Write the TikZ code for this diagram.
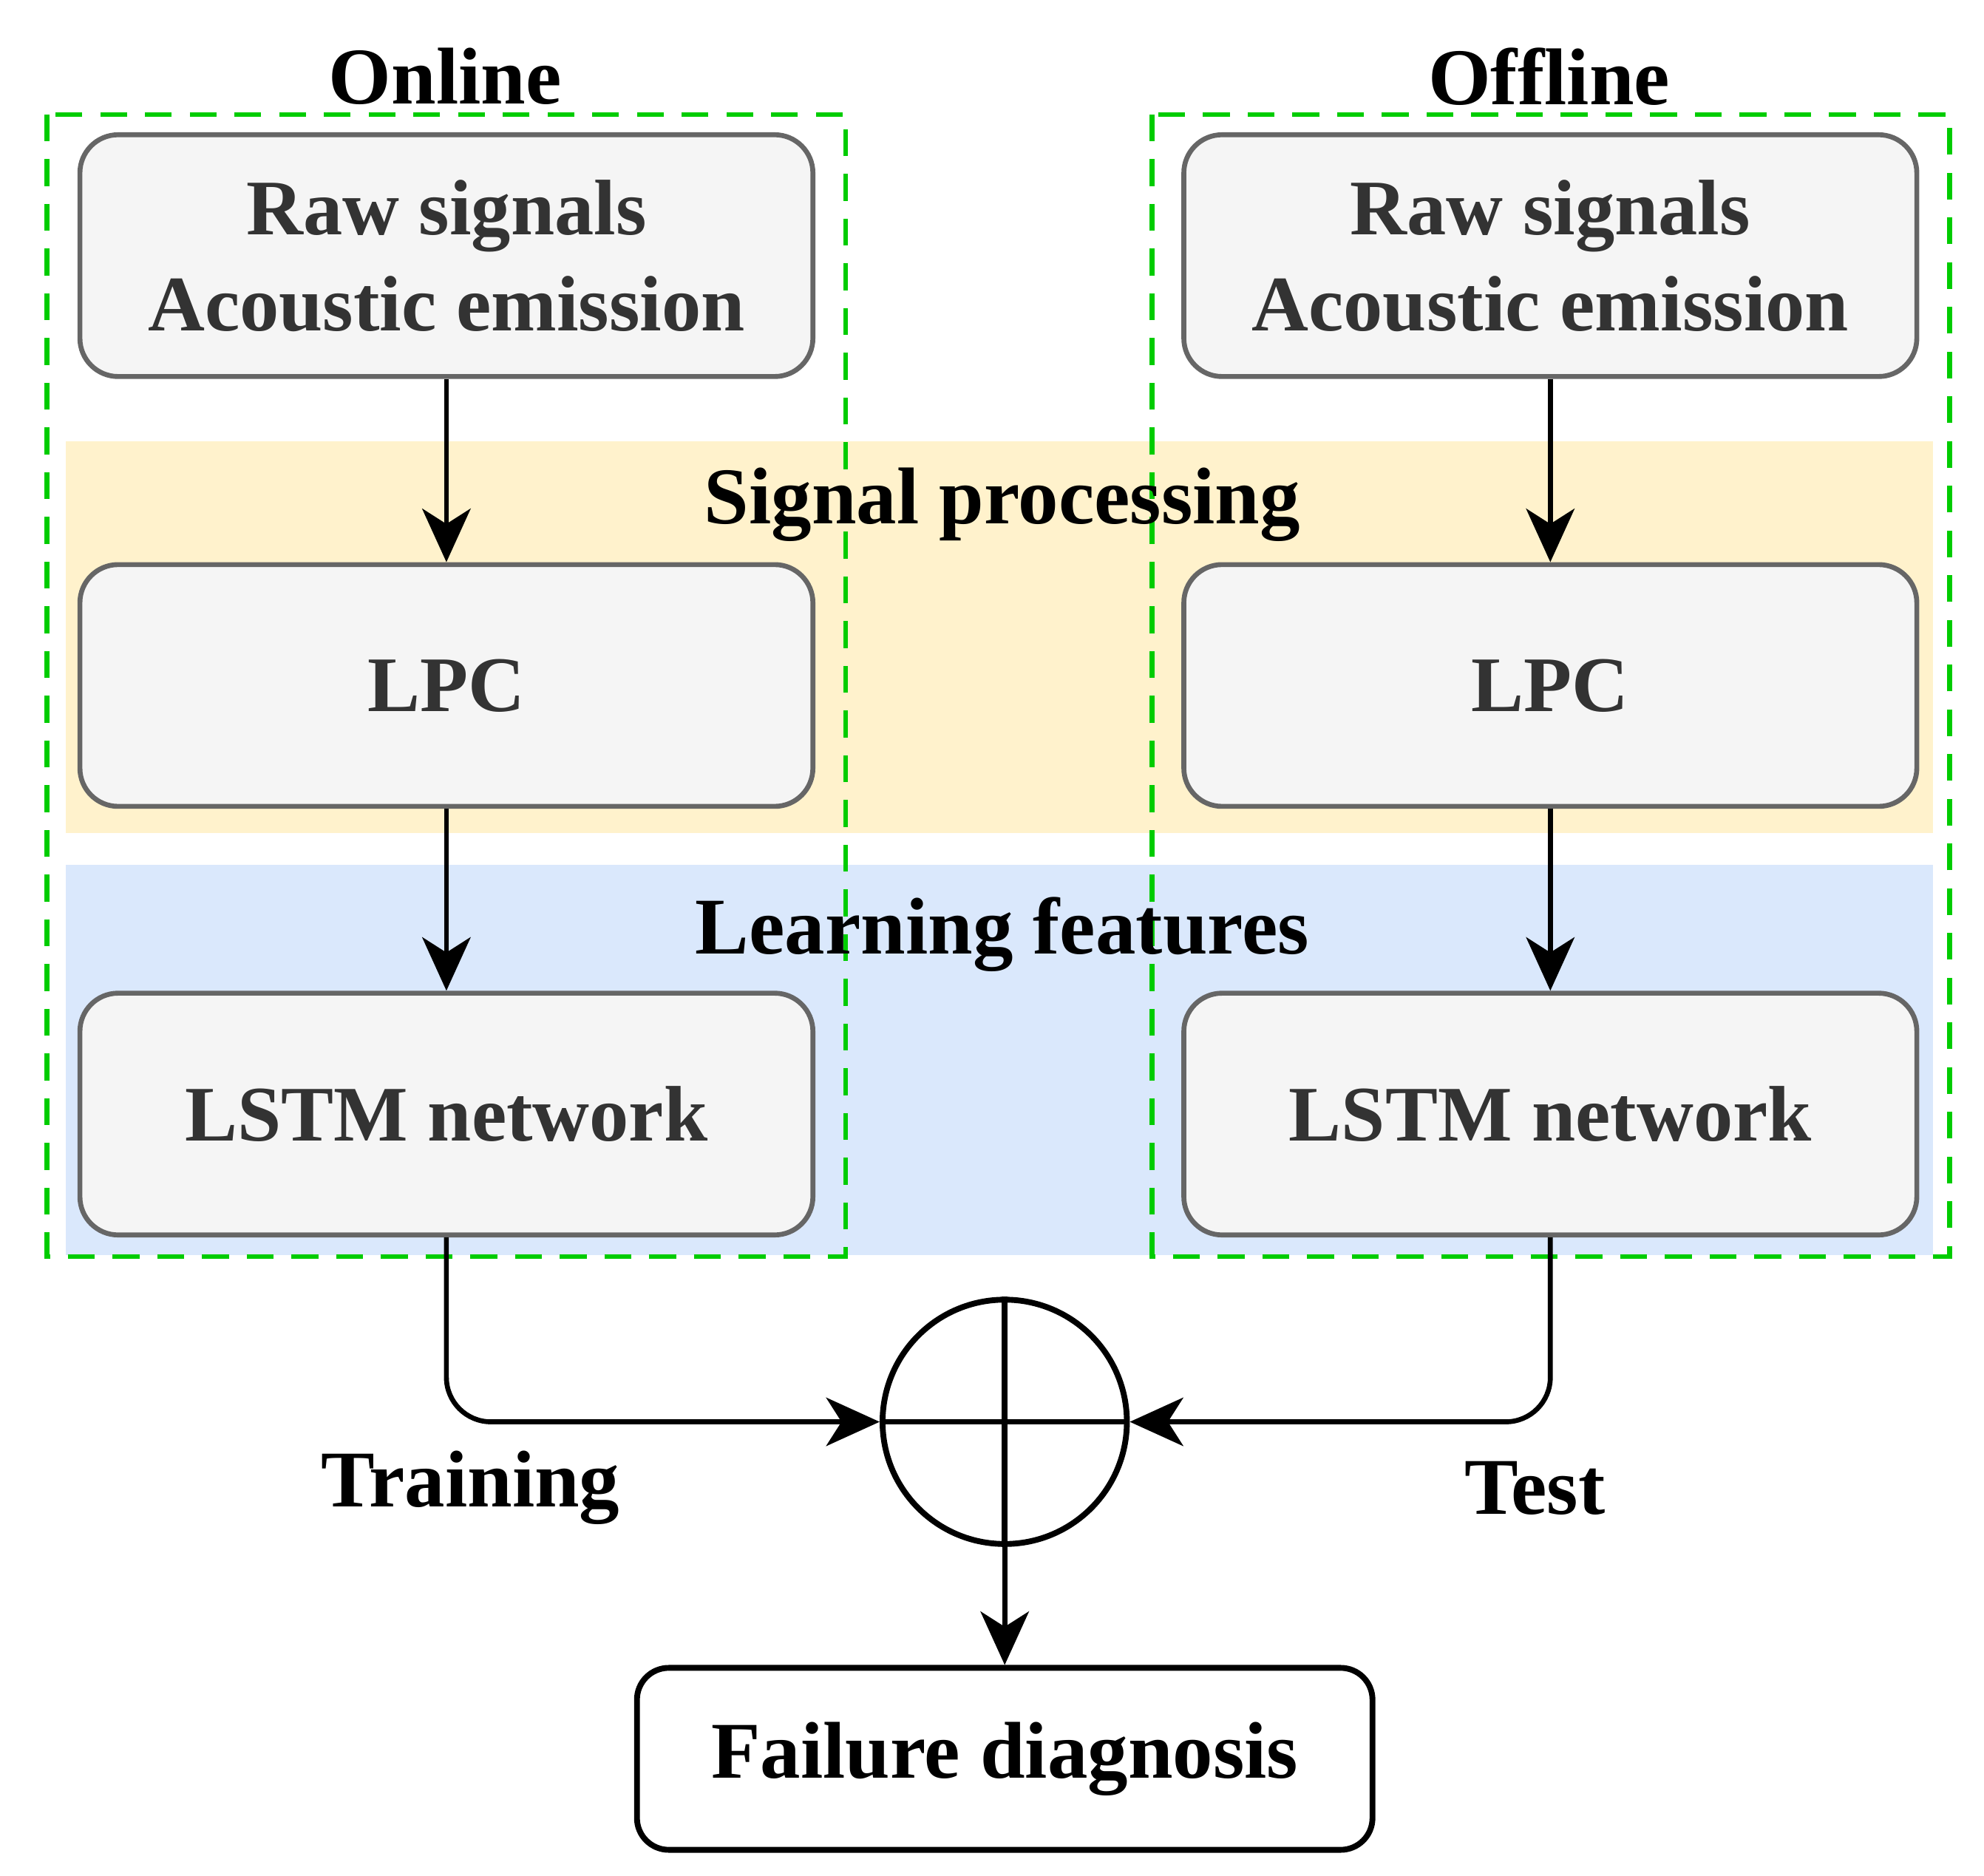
\documentclass[tikz,border=0pt]{standalone}
\usepackage{fontspec}
\setmainfont{Liberation Serif}
\usetikzlibrary{arrows.meta}
\definecolor{boxfill}{HTML}{F5F5F5}
\definecolor{boxdraw}{HTML}{666666}
\definecolor{boxtext}{HTML}{333333}
\definecolor{yel}{HTML}{FFF2CC}
\definecolor{blu}{HTML}{DAE8FC}
\definecolor{grn}{HTML}{00CC00}
\begin{document}
\begin{tikzpicture}[x=0.01cm,y=-0.01cm,
  box/.style={draw=boxdraw,fill=boxfill,line width=1.1pt,rounded corners=0.3cm,minimum width=5.76cm,minimum height=1.9cm,text=boxtext,font=\fontsize{17.6}{21.5}\selectfont\bfseries,align=center},
  arr/.style={line width=1.1pt,-{Stealth[length=0.42cm,width=0.38cm,inset=0.12cm]}},
  grndash/.style={draw=grn,line width=1.1pt,dash pattern=on 6pt off 4pt},
  lab/.style={font=\fontsize{18}{22}\selectfont\bfseries}]
\useasboundingbox (0,0) rectangle (1560,1475);
\fill[yel] (52,347) rectangle (1520,655);
\fill[blu] (52,680) rectangle (1520,987);
\draw[grndash] (37,90) rectangle (665,988);
\draw[grndash] (906,90) rectangle (1533,988);
\node[lab] (on) at (350,60) {Online};
\node[lab] (off) at (1218,60) {Offline};
\node[lab] (sp) at (788,397) {Signal processing};
\node[lab] (lf) at (788,735) {Learning features};
\node[box] (r1) at (351,201) {Raw signals\\Acoustic emission};
\node[box] (r2) at (1219,201) {Raw signals\\Acoustic emission};
\node[box] (l1) at (351,539) {LPC};
\node[box] (l2) at (1219,539) {LPC};
\node[box] (s1) at (351,876) {LSTM network};
\node[box] (s2) at (1219,876) {LSTM network};
\node[draw,circle,line width=1.3pt,minimum size=1.92cm,inner sep=0] (c) at (790,1118) {};
\draw[line width=1.3pt] (c.north) -- (c.south) (c.west) -- (c.east);
\node[draw,rounded corners=0.25cm,line width=1.3pt,minimum width=5.78cm,minimum height=1.43cm,font=\fontsize{18}{21}\selectfont\bfseries] (f) at (790,1383) {Failure diagnosis};
\node[lab] (tr) at (370,1170) {Training};
\node[lab] (te) at (1207,1170) {Test};
\draw[arr] (r1) -- (l1);
\draw[arr] (r2) -- (l2);
\draw[arr] (l1) -- (s1);
\draw[arr] (l2) -- (s2);
\draw[arr,rounded corners=0.35cm] (s1.south) |- (c.west);
\draw[arr,rounded corners=0.35cm] (s2.south) |- (c.east);
\draw[arr] (c.south) -- (f.north);
\end{tikzpicture}
\end{document}
